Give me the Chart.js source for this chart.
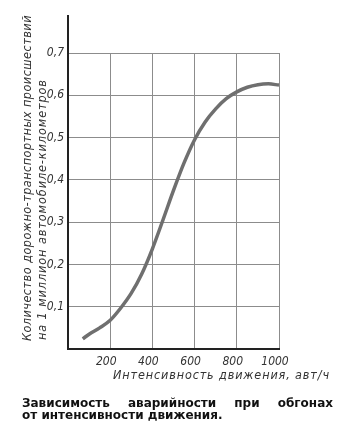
<!DOCTYPE html>
<html>
<head>
<meta charset="utf-8">
<script src="https://cdn.jsdelivr.net/npm/chart.js@4/dist/chart.umd.min.js"></script>
<style>
  body { margin: 0; background: #fff; }
  #wrap { position: relative; width: 350px; height: 434px; }
  #caption {
    position: absolute; left: 22px; top: 397px; width: 311px;
    font: bold 12px "DejaVu Sans", sans-serif; line-height: 12px; color: #111;
  }
  #caption .l1 { text-align: justify; text-align-last: justify; white-space: nowrap; }
</style>
</head>
<body>
<div id="wrap">
  <canvas id="myChart" width="350" height="434"></canvas>
  <div id="caption">
    <div class="l1">Зависимость аварийности при обгонах</div>
    <div>от интенсивности движения.</div>
  </div>
</div>
<script>
// intensity, veh/h
var intensity = [70, 100, 150, 200, 250, 300, 350, 400, 450, 500, 550, 600, 650, 700, 750, 800, 850, 900, 950, 1000];
// accidents per 1 million vehicle-km
var accidents = [0.024, 0.035, 0.05, 0.068, 0.097, 0.132, 0.178, 0.237, 0.305, 0.375, 0.44, 0.495, 0.537, 0.568, 0.592, 0.608, 0.619, 0.625, 0.627, 0.624];

var yTitle = ['Количество дорожно-транспортных происшествий', 'на 1 миллион автомобиле-километров'];
var xTitle = 'Интенсивность движения, авт/ч';

var points = intensity.map(function(v, i) { return {x: v, y: accidents[i]}; });

var tickFont = {family: '"Liberation Sans Narrow", "DejaVu Sans Condensed", sans-serif', size: 12, style: 'italic'};
var titleFont = 'oblique 12.5px "DejaVu Sans Condensed", "DejaVu Sans", sans-serif';

// spread letters so a line takes the given length
function spreadText(ctx, text, x, y, len) {
  ctx.letterSpacing = '0px';
  var w = ctx.measureText(text).width;
  ctx.letterSpacing = ((len - w) / text.length).toFixed(2) + 'px';
  ctx.fillText(text, x, y);
  ctx.letterSpacing = '0px';
}

var titles = {
  id: 'titles',
  afterDraw: function(chart) {
    var ctx = chart.ctx;
    var area = chart.chartArea;
    ctx.save();
    // y axis line runs on above the last grid line
    ctx.strokeStyle = '#222';
    ctx.lineWidth = 2;
    ctx.beginPath();
    ctx.moveTo(area.left, area.top);
    ctx.lineTo(area.left, area.top - 38);
    ctx.stroke();

    ctx.fillStyle = '#333';
    ctx.font = titleFont;
    ctx.textAlign = 'left';
    ctx.textBaseline = 'alphabetic';
    ctx.save();
    ctx.translate(31, 341);
    ctx.rotate(-Math.PI / 2);
    spreadText(ctx, yTitle[0], 0, 0, 326);
    spreadText(ctx, yTitle[1], 1, 15, 261);
    ctx.restore();

    spreadText(ctx, xTitle, 113, 379, 217);
    ctx.restore();
  }
};

var ctx = document.getElementById('myChart').getContext('2d');
var myChart = new Chart(ctx, {
  type: 'line',
  data: {
    datasets: [{
      data: points,
      borderColor: '#6f6f6f',
      borderWidth: 3.5,
      pointRadius: 0,
      cubicInterpolationMode: 'monotone',
      fill: false
    }]
  },
  options: {
    responsive: false,
    animation: false,
    layout: {padding: {left: 0, top: 53, right: 71, bottom: 44}},
    plugins: {legend: {display: false}, tooltip: {enabled: false}},
    scales: {
      x: {
        type: 'linear',
        min: 0, max: 1000,
        afterFit: function(scale) { scale.height = 41; },
        ticks: {
          stepSize: 200,
          padding: 6,
          labelOffset: -4,
          color: '#333',
          font: tickFont,
          callback: function(v) { return v === 0 ? '' : v; }
        },
        grid: {color: '#8c8c8c', lineWidth: 1, drawTicks: false},
        border: {color: '#222', width: 2}
      },
      y: {
        min: 0, max: 0.7,
        afterFit: function(scale) { scale.width = 68; },
        ticks: {
          stepSize: 0.1,
          padding: 4,
          color: '#333',
          font: tickFont,
          callback: function(v) { return v === 0 ? '' : v.toFixed(1).replace('.', ','); }
        },
        grid: {color: '#8c8c8c', lineWidth: 1, drawTicks: false},
        border: {color: '#222', width: 2}
      }
    }
  },
  plugins: [titles]
});
</script>
</body>
</html>
